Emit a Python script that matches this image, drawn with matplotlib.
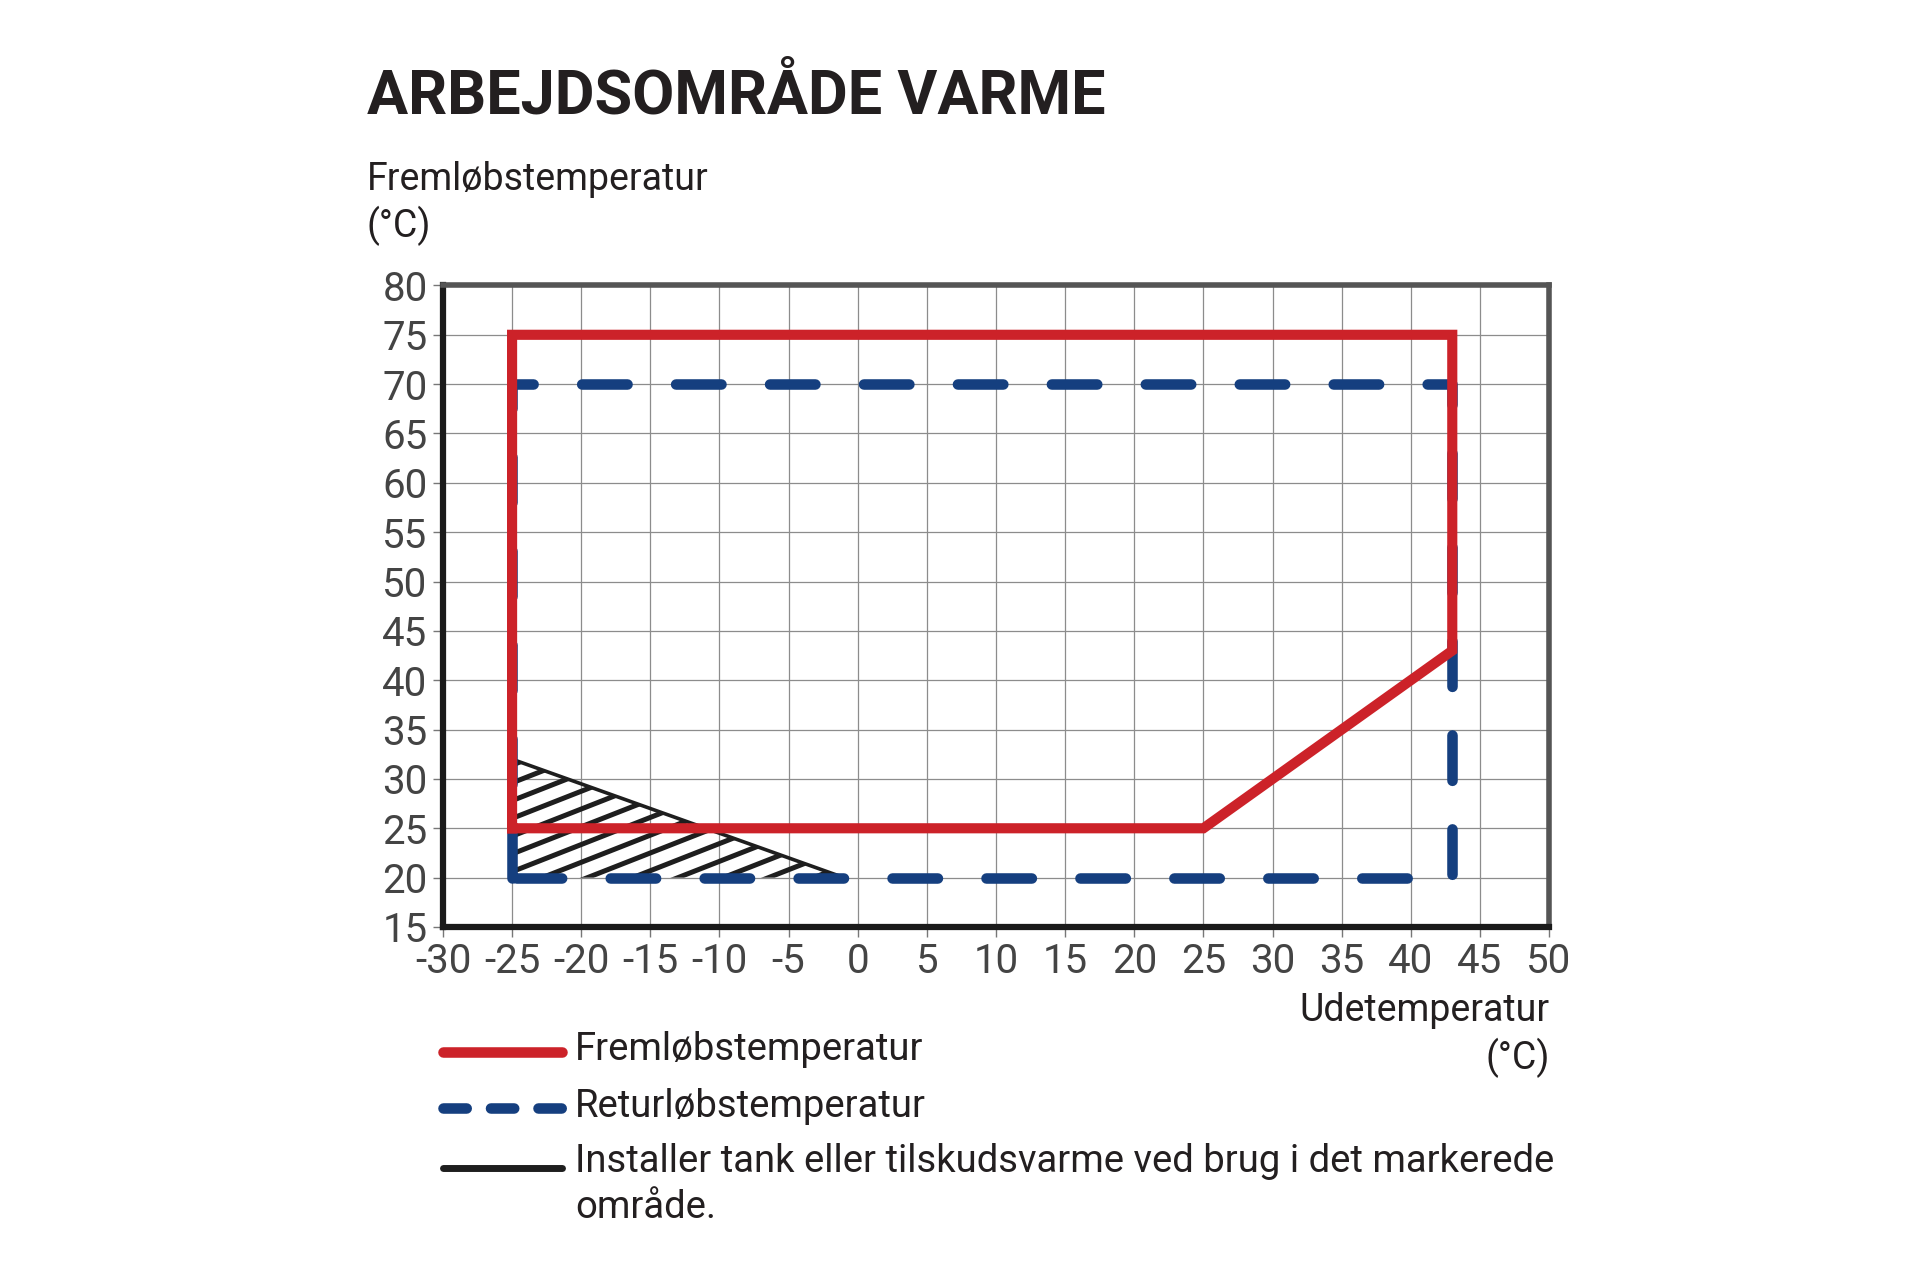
import numpy as np
import matplotlib.pyplot as plt
from matplotlib.lines import Line2D
from matplotlib.patches import Polygon

plt.rcParams['font.family'] = ['Roboto', 'DejaVu Sans']
plt.rcParams['axes.unicode_minus'] = False

# data
x_ticks = list(range(-30, 55, 5))
y_ticks = list(range(15, 85, 5))

frem_x = [-25, -25, 43, 43, 25, -25]
frem_y = [25, 75, 75, 43, 25, 25]

retur_x = [-25, -25, 43, 43, -25]
retur_y = [20, 70, 70, 20, 20]

tank_x = [-25, -1, -25]
tank_y = [32, 20, 20]

title = 'ARBEJDSOMRÅDE VARME'
ylabel = ['Fremløbstemperatur', '(°C)']
xlabel = ['Udetemperatur', '(°C)']
legend_labels = ['Fremløbstemperatur', 'Returløbstemperatur',
                 'Installer tank eller tilskudsvarme ved brug i det markerede', 'område.']

red = '#cc2229'
blue = '#153f7f'
black = '#1e1e1e'
txt = '#231f20'

fig = plt.figure(figsize=(19.2, 12.8), dpi=100)
ax = fig.add_axes([0.2307, 0.2758, 0.5761, 0.5012])

ax.set_xlim(-30, 50)
ax.set_ylim(15, 80)
ax.set_xticks(x_ticks)
ax.set_yticks(y_ticks)
ax.grid(True, color='#8c8c8c', lw=0.9, zorder=0)
ax.set_axisbelow(True)
ax.tick_params(length=7, width=1, color='#777777', pad=4,
               labelsize=29, labelcolor='#444444')

for side in ['left', 'bottom']:
    ax.spines[side].set_color('#1a1a1a')
    ax.spines[side].set_linewidth(4.5)
for side in ['top', 'right']:
    ax.spines[side].set_color('#555555')
    ax.spines[side].set_linewidth(4)

#   hatched area
poly = Polygon(np.column_stack([tank_x, tank_y]), closed=True,
               facecolor='none', edgecolor='none')
ax.add_patch(poly)
hatch_slope = 0.55
hatch_step = 1.8
xx = np.array([-26, 0])
for c in np.arange(20.6 - 8 * hatch_step, 33, hatch_step):
    ln, = ax.plot(xx, c + hatch_slope * (xx + 25), color=black, lw=3.6,
                  solid_capstyle='butt', zorder=2)
    ln.set_clip_path(poly)
ax.plot(tank_x[:2], tank_y[:2], color=black, lw=2.6, zorder=2)

#   lines
ax.plot(retur_x, retur_y, color=blue, lw=7.6, linestyle=(0, (4.3, 4.6)),
        dash_capstyle='round', solid_joinstyle='miter', zorder=3)
ax.plot(frem_x, frem_y, color=red, lw=7.3, solid_joinstyle='miter', zorder=4)

#   texts
fig.text(0.191, 0.9117, title, fontsize=44, fontweight='bold', color=txt, va='baseline')
fig.text(0.191, 0.8516, ylabel[0], fontsize=27, color=txt, va='baseline')
fig.text(0.191, 0.8145, ylabel[1], fontsize=27, color=txt, va='baseline')
fig.text(0.807, 0.2023, xlabel[0], fontsize=27, color=txt, va='baseline', ha='right')
fig.text(0.807, 0.1645, xlabel[1], fontsize=27, color=txt, va='baseline', ha='right')

#   legend
lx0, lx1 = 443 / 1920, 562 / 1920
tx = 575 / 1920
fig.add_artist(Line2D([lx0, lx1], [0.178, 0.178], transform=fig.transFigure,
                      color=red, lw=7.6, solid_capstyle='round'))
fig.add_artist(Line2D([lx0, lx1], [0.1344, 0.1344], transform=fig.transFigure,
                      color=blue, lw=7.6, linestyle=(0, (2.2, 2.3)),
                      dash_capstyle='round'))
fig.add_artist(Line2D([lx0, lx1], [0.0873, 0.0873], transform=fig.transFigure,
                      color=black, lw=5, solid_capstyle='round'))
fig.text(tx, 0.172, legend_labels[0], fontsize=27.5, color=txt, va='baseline')
fig.text(tx, 0.1277, legend_labels[1], fontsize=27.5, color=txt, va='baseline')
fig.text(tx, 0.0846, legend_labels[2], fontsize=27.5, color=txt, va='baseline')
fig.text(tx, 0.0483, legend_labels[3], fontsize=27.5, color=txt, va='baseline')

fig.savefig('out.png', dpi=100, facecolor='white')
